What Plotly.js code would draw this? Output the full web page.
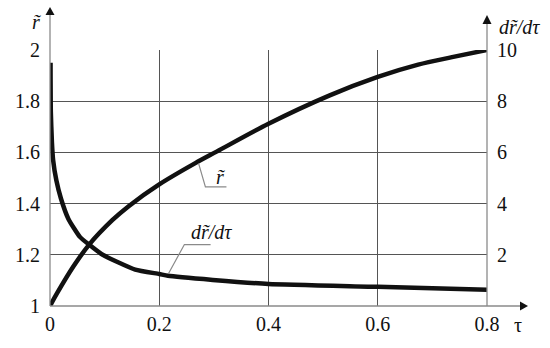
<!DOCTYPE html>
<html>
<head>
<meta charset="utf-8">
<script src="https://cdn.plot.ly/plotly-3.0.1.min.js"></script>
<style>html,body{margin:0;padding:0;background:#fff;}#chart{width:550px;height:348px;}</style>
</head>
<body>
<div id="chart"></div>
<script>
// r~(tau), left axis
const tauR = [0, 0.013, 0.043, 0.071, 0.114, 0.144, 0.2, 0.266, 0.305, 0.4, 0.511, 0.6, 0.674, 0.736, 0.8];
const rVals = [1.0, 1.05, 1.155, 1.238, 1.335, 1.39, 1.475, 1.558, 1.603, 1.712, 1.822, 1.895, 1.943, 1.972, 2.0];
// dr~/dtau, right axis
const tauD = [0.001, 0.0015, 0.0035, 0.0057, 0.0117, 0.020, 0.0337, 0.0547, 0.0714, 0.0965, 0.156, 0.2, 0.216, 0.298, 0.4, 0.6, 0.8];
const dVals = [9.5, 7.6, 6.4, 5.7, 4.9, 4.2, 3.4, 2.7, 2.4, 2.0, 1.42, 1.25, 1.18, 1.02, 0.86, 0.75, 0.63];
// ticks
const xTicks = [0, 0.2, 0.4, 0.6, 0.8];
const xTickText = ['0', '0.2', '0.4', '0.6', '0.8'];
const yTicks = [1, 1.2, 1.4, 1.6, 1.8, 2];
const yTickText = ['1', '1.2', '1.4', '1.6', '1.8', '2'];
const y2Ticks = [2, 4, 6, 8, 10];
const y2TickText = ['2', '4', '6', '8', '10'];

const serif = '"Liberation Serif", "Times New Roman", "DejaVu Serif", serif';
const tickFont = {family: serif, size: 20, color: '#111'};
const axisGray = '#8a8a8a';
const gridGray = '#555';

const traces = [
  {x: tauR, y: rVals, mode: 'lines', line: {color: '#111', width: 4.5, shape: 'spline', smoothing: 0.9}, xaxis: 'x', yaxis: 'y', hoverinfo: 'skip'},
  {x: tauD, y: dVals, mode: 'lines', line: {color: '#111', width: 4.5, shape: 'spline', smoothing: 0.5}, xaxis: 'x', yaxis: 'y2', hoverinfo: 'skip'}
];

const W = 437, H = 256;
const px = v => v / W, py = v => v / H;

const shapes = [
  // axis lines
  {type: 'line', xref: 'paper', yref: 'paper', x0: 0, x1: 0, y0: 0, y1: 1 + py(35), line: {color: axisGray, width: 1.3}, layer: 'above'},
  {type: 'line', xref: 'paper', yref: 'paper', x0: 1, x1: 1, y0: 0, y1: 1 + py(26), line: {color: axisGray, width: 1.3}, layer: 'above'},
  {type: 'line', xref: 'paper', yref: 'paper', x0: 0, x1: 1 + px(33), y0: 0, y1: 0, line: {color: axisGray, width: 1.3}, layer: 'above'},
  // arrows
  {type: 'path', xref: 'paper', yref: 'paper', path: `M ${-px(4.5)} ${1 + py(35)} L ${px(4.5)} ${1 + py(35)} L 0 ${1 + py(43)} Z`, fillcolor: '#111', line: {width: 0}, layer: 'above'},
  {type: 'path', xref: 'paper', yref: 'paper', path: `M ${1 - px(4.5)} ${1 + py(26)} L ${1 + px(4.5)} ${1 + py(26)} L 1 ${1 + py(35)} Z`, fillcolor: '#111', line: {width: 0}, layer: 'above'},
  {type: 'path', xref: 'paper', yref: 'paper', path: `M ${1 + px(33)} ${-py(4.5)} L ${1 + px(33)} ${py(4.5)} L ${1 + px(41)} 0 Z`, fillcolor: '#111', line: {width: 0}, layer: 'above'},
  // leader lines for curve labels
  {type: 'path', xref: 'x', yref: 'y', path: 'M 0.272 1.557 L 0.2845 1.465 L 0.323 1.465', line: {color: axisGray, width: 1.2}},
  {type: 'path', xref: 'x', yref: 'y', path: 'M 0.217 1.127 L 0.246 1.240 L 0.294 1.240', line: {color: axisGray, width: 1.2}}
];

const annFont = {family: serif, size: 20, color: '#111', style: 'italic'};
const annotations = [
  {xref: 'paper', yref: 'paper', x: px(36 - 50), y: 1 + py(306 - 22 - 256), text: 'r̃', showarrow: false, font: annFont, xanchor: 'center', yanchor: 'middle'},
  {xref: 'paper', yref: 'paper', x: px(519 - 50), y: 1 + py(306 - 27 - 256), text: 'dr̃/dτ', showarrow: false, font: annFont, xanchor: 'center', yanchor: 'middle'},
  {xref: 'paper', yref: 'paper', x: px(518 - 50), y: -py(325 - 306), text: 'τ', showarrow: false, font: {family: serif, size: 20, color: '#111'}, xanchor: 'center', yanchor: 'middle'},
  {xref: 'x', yref: 'y', x: 0.312, y: 1.505, text: 'r̃', showarrow: false, font: annFont, xanchor: 'center', yanchor: 'middle'},
  {xref: 'x', yref: 'y', x: 0.2955, y: 1.288, text: 'dr̃/dτ', showarrow: false, font: annFont, xanchor: 'center', yanchor: 'middle'}
];

const layout = {
  width: 550, height: 348,
  margin: {l: 50, r: 63, t: 50, b: 42, pad: 0},
  paper_bgcolor: '#fff', plot_bgcolor: '#fff',
  showlegend: false,
  font: {family: serif},
  xaxis: {range: [0, 0.8], tickvals: xTicks, ticktext: xTickText, showgrid: true, gridcolor: gridGray, gridwidth: 1, zeroline: false, showline: false, ticks: '', tickfont: tickFont, ticklabelstandoff: 4, fixedrange: true},
  yaxis: {range: [1, 2], tickvals: yTicks, ticktext: yTickText, showgrid: true, gridcolor: gridGray, gridwidth: 1, zeroline: false, showline: false, ticks: '', tickfont: tickFont, ticklabelstandoff: 9, fixedrange: true},
  yaxis2: {range: [0, 10], overlaying: 'y', side: 'right', tickvals: y2Ticks, ticktext: y2TickText, showgrid: false, zeroline: false, showline: false, ticks: '', tickfont: tickFont, ticklabelstandoff: 9, fixedrange: true},
  shapes: shapes,
  annotations: annotations
};

Plotly.newPlot('chart', traces, layout, {displayModeBar: false, staticPlot: true});
</script>
</body>
</html>
